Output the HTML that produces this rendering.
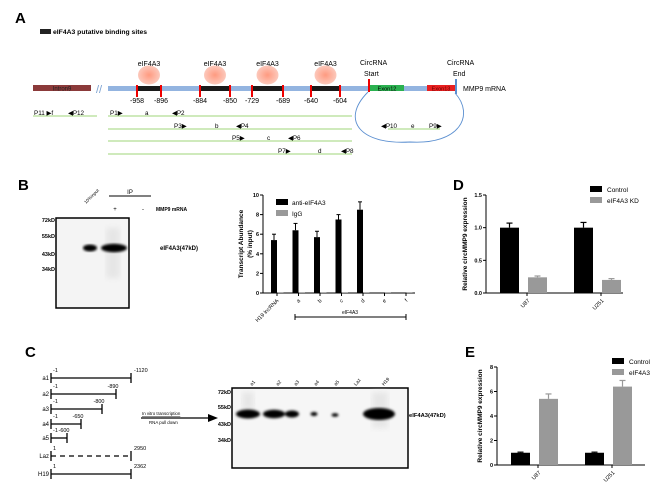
<!DOCTYPE html>
<html><head><meta charset="utf-8"><style>
body{margin:0;background:#fff}
svg{display:block;font-family:"Liberation Sans",Arial,sans-serif}
</style></head><body>
<svg id="fig" width="660" height="492" viewBox="0 0 660 492">
<defs>
<radialGradient id="pk"><stop offset="0" stop-color="#ff9a80"/><stop offset="1" stop-color="#fcc9bc"/></radialGradient>
<filter id="bl"><feGaussianBlur stdDeviation="1.2"/></filter>
<filter id="bl2"><feGaussianBlur stdDeviation="3"/></filter>
</defs>
<!-- Panel A -->
<g>
<text x="15" y="23" font-size="15" font-weight="bold">A</text>
<rect x="40" y="29" width="11" height="5" fill="#222"/>
<text x="53" y="34" font-size="6.8" font-weight="bold">eIF4A3 putative binding sites</text>
<rect x="33" y="85" width="58" height="6" fill="#8b3a3a"/>
<text x="62" y="90.5" font-size="6" fill="#222" text-anchor="middle">Intron9</text>
<text x="96" y="93" font-size="11" fill="#7aa0d0">//</text>
<rect x="108" y="86" width="348" height="5" fill="#93b4e0"/>
<rect x="370" y="85" width="34" height="6" fill="#2bb150"/>
<text x="387" y="90.5" font-size="5.5" text-anchor="middle">Exon12</text>
<rect x="427" y="85" width="28" height="6" fill="#e82020"/>
<text x="441" y="90.5" font-size="5.5" text-anchor="middle" fill="#600">Exon13</text>
<rect x="368" y="79" width="2" height="13" fill="#e00"/>
<rect x="455" y="79" width="2" height="15" fill="#5b8fd0"/>
<text x="463" y="91" font-size="7">MMP9 mRNA</text>
<text x="360" y="65" font-size="7">CircRNA</text><text x="364" y="76" font-size="7">Start</text>
<text x="447" y="65" font-size="7">CircRNA</text><text x="453" y="76" font-size="7">End</text>
<g id="sites"></g>
<g stroke="#9fd67a" stroke-width="1">
<line x1="33" y1="116" x2="97" y2="116"/><line x1="108" y1="116" x2="352" y2="116"/>
<line x1="108" y1="129" x2="352" y2="129"/><line x1="108" y1="141" x2="352" y2="141"/>
<line x1="108" y1="154" x2="352" y2="154"/><line x1="388" y1="129" x2="440" y2="129"/>
</g>
<path d="M368,92 C340,120 360,145 410,142 C460,145 475,115 455,93" fill="none" stroke="#5b8fd0" stroke-width="0.9"/>
<g font-size="6.3">
<text x="34" y="115">P11 ▶f</text><text x="68" y="115">◀P12</text>
<text x="110" y="115">P1▶</text><text x="145" y="115">a</text><text x="172" y="115">◀P2</text>
<text x="174" y="128">P3▶</text><text x="215" y="128">b</text><text x="236" y="128">◀P4</text>
<text x="232" y="140">P5▶</text><text x="267" y="140">c</text><text x="288" y="140">◀P6</text>
<text x="278" y="153">P7▶</text><text x="318" y="153">d</text><text x="341" y="153">◀P8</text>
<text x="381" y="128">◀P10</text><text x="411" y="128">e</text><text x="429" y="128">P9▶</text>
</g>
</g>
<!-- Panel B -->
<g>
<text x="18" y="190" font-size="15" font-weight="bold">B</text>
<rect x="56" y="218" width="73" height="90" fill="#f4f4f4" stroke="#000" stroke-width="1.5"/>
<rect x="106" y="228" width="14" height="50" fill="#e6e6e6" filter="url(#bl2)"/>
<ellipse cx="90" cy="248" rx="7" ry="3.5" fill="#000" filter="url(#bl)"/>
<ellipse cx="114" cy="248" rx="13" ry="4.2" fill="#000" filter="url(#bl)"/>
<g font-size="5.5" font-weight="bold" text-anchor="end"><text x="55" y="222">72kD</text><text x="55" y="238">55kD</text><text x="55" y="256">43kD</text><text x="55" y="271">34kD</text></g>
<text x="86" y="204" font-size="4.5" transform="rotate(-45 86 204)">10%input</text>
<line x1="109" y1="196" x2="151" y2="196" stroke="#000" stroke-width="1"/>
<text x="130" y="194" font-size="6" text-anchor="middle">IP</text>
<text x="115" y="211" font-size="6" text-anchor="middle">+</text><text x="143" y="211" font-size="6" text-anchor="middle">-</text>
<text x="156" y="211" font-size="5" font-weight="bold">MMP9 mRNA</text>
<text x="160" y="250" font-size="6" font-weight="bold">eIF4A3(47kD)</text>
<g id="chartB"></g>
</g>
<!-- Panel C -->
<g>
<text x="25" y="357" font-size="15" font-weight="bold">C</text>
<g id="constructs" stroke="#000" stroke-width="1.3"></g>
<line x1="141" y1="418" x2="210" y2="418" stroke="#000" stroke-width="1.2"/>
<polygon points="208,414 218,418 208,422" fill="#000"/>
<text x="142" y="415" font-size="4.4" text-decoration="underline">In vitro transcription</text>
<text x="149" y="424" font-size="4.4">RNA pull down</text>
<rect x="232" y="388" width="176" height="80" fill="#f6f6f6" stroke="#000" stroke-width="1.5"/>
<rect x="242" y="392" width="12" height="18" fill="#e6e6e6" filter="url(#bl2)"/>
<rect x="372" y="392" width="16" height="36" fill="#e6e6e6" filter="url(#bl2)"/>
<g fill="#000" filter="url(#bl)">
<ellipse cx="248" cy="414" rx="12" ry="4.5"/><ellipse cx="274" cy="414" rx="11" ry="4.2"/>
<ellipse cx="292" cy="414" rx="7" ry="3.5"/><ellipse cx="314" cy="414" rx="3.5" ry="2"/>
<ellipse cx="335" cy="415" rx="3.5" ry="1.8"/><ellipse cx="379" cy="414" rx="16" ry="6"/></g>
<g font-size="5.5" font-weight="bold" text-anchor="end"><text x="231" y="394">72kD</text><text x="231" y="409">55kD</text><text x="231" y="426">43kD</text><text x="231" y="442">34kD</text></g>
<g font-size="4.8" id="laneLabels"></g>
<text x="409" y="417" font-size="5.8" font-weight="bold">eIF4A3(47kD)</text>
</g>
<g><text x="453" y="190" font-size="15" font-weight="bold">D</text><g id="chartD"></g></g>
<g><text x="465" y="357" font-size="15" font-weight="bold">E</text><g id="chartE"></g></g>
</svg>
<script>
const NS="http://www.w3.org/2000/svg";
function mk(parent,tag,attrs,txt){const e=document.createElementNS(NS,tag);for(const k in attrs)e.setAttribute(k,attrs[k]);if(txt!==undefined)e.textContent=txt;parent.appendChild(e);return e;}

// Panel A binding sites
const siteStart=["-958","-884","-729","-640"];
const siteEnd=["-896","-850","-689","-604"];
const siteX=[[137,161],[200,230],[252,283],[311,340]];
const sg=document.getElementById('sites');
siteX.forEach((s,i)=>{
  const c=(s[0]+s[1])/2;
  const el=mk(sg,'ellipse',{cx:c,cy:75,rx:11,ry:9.5,fill:'url(#pk)'});
  
  
  mk(sg,'text',{x:c,y:66,'font-size':7,'text-anchor':'middle'},'eIF4A3');
  const r=mk(sg,'rect',{x:s[0],y:86,width:s[1]-s[0],height:5,fill:'#1a1a1a'});
  
  
  mk(sg,'rect',{x:s[0]-1,y:85,width:2,height:12,fill:'#e00'});
  mk(sg,'rect',{x:s[1]-1,y:85,width:2,height:12,fill:'#e00'});
  mk(sg,'text',{x:s[0],y:103,'font-size':7,'text-anchor':'middle'},siteStart[i]);
  mk(sg,'text',{x:s[1],y:103,'font-size':7,'text-anchor':'middle'},siteEnd[i]);
});

// Chart B data
const bCats=["H19 lncRNA","a","b","c","d","e","f"];
const bAnti=[5.4,6.4,5.7,7.5,8.5,0.05,0.05];
const bAntiErr=[0.6,0.7,0.6,0.5,0.8,0,0];
const bIgG=[0.08,0.08,0.08,0.08,0.08,0.08,0.08];
const bTicks=[0,2,4,6,8,10];
(function(){
  const g=document.getElementById('chartB');
  const x0=263,x1=415,y0=293,y1=195,max=10;
  const Y=v=>y0-(v/max)*(y0-y1);
  const X=i=>274+i*21.5;
  mk(g,'line',{x1:x0,y1:y1,x2:x0,y2:y0,stroke:'#000','stroke-width':1});
  mk(g,'line',{x1:x0,y1:y0,x2:x1,y2:y0,stroke:'#000','stroke-width':1});
  bTicks.forEach(t=>{mk(g,'line',{x1:x0-3,y1:Y(t),x2:x0,y2:Y(t),stroke:'#000'});mk(g,'text',{x:x0-4,y:Y(t)+2,'font-size':5.5,'text-anchor':'end','font-weight':'bold'},t);});
  bCats.forEach((c,i)=>{
    const cx=X(i);
    mk(g,'line',{x1:cx+3,y1:y0,x2:cx+3,y2:y0+3,stroke:'#000'});
    if(bAntiErr[i]>0){mk(g,'line',{x1:cx,y1:Y(bAnti[i]),x2:cx,y2:Y(bAnti[i]+bAntiErr[i]),stroke:'#000'});mk(g,'line',{x1:cx-2,y1:Y(bAnti[i]+bAntiErr[i]),x2:cx+2,y2:Y(bAnti[i]+bAntiErr[i]),stroke:'#000'});}
    const b=mk(g,'rect',{x:cx-3,y:Y(bAnti[i]),width:6,height:y0-Y(bAnti[i]),fill:'#000'});
    
    
    const b2=mk(g,'rect',{x:cx+3.5,y:Y(bIgG[i]),width:6,height:y0-Y(bIgG[i]),fill:'#999'});
    
    
    mk(g,'text',{x:cx+5,y:y0+8,'font-size':5.5,'text-anchor':'end',transform:`rotate(-45 ${cx+5} ${y0+8})`},c);
  });
  mk(g,'line',{x1:295,y1:317,x2:406,y2:317,stroke:'#000'});
  mk(g,'line',{x1:295,y1:314,x2:295,y2:320,stroke:'#000'});
  mk(g,'line',{x1:406,y1:314,x2:406,y2:320,stroke:'#000'});
  mk(g,'text',{x:350,y:314,'font-size':5,'text-anchor':'middle'},'eIF4A3');
  mk(g,'rect',{x:276,y:199,width:12,height:6,fill:'#000'});
  mk(g,'text',{x:292,y:205,'font-size':6.5},'anti-eIF4A3');
  mk(g,'rect',{x:276,y:210,width:12,height:6,fill:'#999'});
  mk(g,'text',{x:292,y:216,'font-size':6.5},'IgG');
  mk(g,'text',{x:243,y:244,'font-size':6.5,'font-weight':'bold','text-anchor':'middle',transform:'rotate(-90 243 244)'},'Transcript Abundance');
  mk(g,'text',{x:252,y:244,'font-size':6.5,'font-weight':'bold','text-anchor':'middle',transform:'rotate(-90 252 244)'},'(% input)');
})();

// Generic grouped chart for D and E
function groupChart(id,cfg){
  const g=document.getElementById(id);
  const Y=v=>cfg.y0-(v/cfg.max)*(cfg.y0-cfg.y1);
  mk(g,'line',{x1:cfg.x0,y1:cfg.y1,x2:cfg.x0,y2:cfg.y0,stroke:'#000','stroke-width':1});
  mk(g,'line',{x1:cfg.x0,y1:cfg.y0,x2:cfg.xEnd,y2:cfg.y0,stroke:'#000','stroke-width':1});
  cfg.ticks.forEach((t,i)=>{mk(g,'line',{x1:cfg.x0-3,y1:Y(t),x2:cfg.x0,y2:Y(t),stroke:'#000'});mk(g,'text',{x:cfg.x0-4,y:Y(t)+2,'font-size':5.5,'font-weight':'bold','text-anchor':'end'},cfg.tickLabels[i]);});
  cfg.cats.forEach((c,i)=>{
    const gx=cfg.gx[i];
    [[cfg.ctrl,cfg.ctrlErr,'#000',0],[cfg.trt,cfg.trtErr,'#999',1]].forEach(([vals,errs,col,k])=>{
      const bx=gx+k*cfg.step, v=vals[i], e=errs[i];
      mk(g,'line',{x1:bx+cfg.w/2,y1:Y(v),x2:bx+cfg.w/2,y2:Y(v+e),stroke:col,'stroke-width':1.2});
      mk(g,'line',{x1:bx+cfg.w/2-3,y1:Y(v+e),x2:bx+cfg.w/2+3,y2:Y(v+e),stroke:col,'stroke-width':1.2});
      const b=mk(g,'rect',{x:bx,y:Y(v),width:cfg.w,height:cfg.y0-Y(v),fill:col});
      
      
    });
    const lx=gx+cfg.step-1;
    mk(g,'line',{x1:lx,y1:cfg.y0,x2:lx,y2:cfg.y0+3,stroke:'#000'});
    mk(g,'text',{x:lx+3,y:cfg.y0+8,'font-size':5.5,'text-anchor':'end',transform:`rotate(-45 ${lx+3} ${cfg.y0+8})`},c);
  });
  mk(g,'rect',{x:cfg.lx,y:cfg.ly,width:12,height:6,fill:'#000'});
  mk(g,'text',{x:cfg.lx+17,y:cfg.ly+6,'font-size':6.5},cfg.legend[0]);
  mk(g,'rect',{x:cfg.lx,y:cfg.ly+11,width:12,height:6,fill:'#999'});
  mk(g,'text',{x:cfg.lx+17,y:cfg.ly+17,'font-size':6.5},cfg.legend[1]);
  const my=(cfg.y0+cfg.y1)/2;
  mk(g,'text',{x:cfg.ylx,y:my,'font-size':6.5,'font-weight':'bold','text-anchor':'middle',transform:`rotate(-90 ${cfg.ylx} ${my})`},'Relative circMMP9 expression');
}
const dCats=["U87","U251"];
const dCtrl=[1.0,1.0];
const dCtrlErr=[0.07,0.08];
const dKD=[0.24,0.2];
const dKDErr=[0.02,0.02];
const dTicks=[0,0.5,1.0,1.5];
const dTickLabels=["0.0","0.5","1.0","1.5"];
groupChart('chartD',{x0:486,xEnd:623,y0:293,y1:195,max:1.5,ticks:dTicks,tickLabels:dTickLabels,cats:dCats,ctrl:dCtrl,ctrlErr:dCtrlErr,trt:dKD,trtErr:dKDErr,gx:[500,574],step:28,w:19,lx:590,ly:186,legend:["Control","eIF4A3 KD"],ylx:467});
const eCats=["U87","U251"];
const eCtrl=[1.0,1.0];
const eCtrlErr=[0.05,0.05];
const eOE=[5.4,6.4];
const eOEErr=[0.4,0.5];
const eTicks=[0,2,4,6,8];
const eTickLabels=["0","2","4","6","8"];
groupChart('chartE',{x0:497,xEnd:645,y0:465,y1:367,max:8,ticks:eTicks,tickLabels:eTickLabels,cats:eCats,ctrl:eCtrl,ctrlErr:eCtrlErr,trt:eOE,trtErr:eOEErr,gx:[511,585],step:28,w:19,lx:612,ly:358,legend:["Control","eIF4A3"],ylx:482});

// Panel C constructs
const cNames=["a1","a2","a3","a4","a5","Laz","H19"];
const cStartLbl=["-1","-1","-1","-1","-1","1","1"];
const cEndLbl=["-1120","-890","-800","-650","-600","2950","2362"];
const cEndX=[131,116,102,81,67,131,131];
const cY=[378,394,409,424,438,456,474];
const cg=document.getElementById('constructs');
cNames.forEach((n,i)=>{
  const y=cY[i];
  mk(cg,'line',{x1:51,y1:y-5,x2:51,y2:y+5});
  mk(cg,'line',{x1:cEndX[i],y1:y-5,x2:cEndX[i],y2:y+5});
  const l=mk(cg,'line',{x1:51,y1:y,x2:cEndX[i],y2:y});
  if(n==='Laz')l.setAttribute('stroke-dasharray','5,4');
  
  
  mk(cg,'text',{x:49,y:y+2,'font-size':6,'text-anchor':'end',stroke:'none'},n);
  mk(cg,'text',{x:53,y:y-6,'font-size':5.5,stroke:'none'},cStartLbl[i]);
  mk(cg,'text',{x:cEndX[i]-(i<5&&i>0?3:-3),y:y-6,'font-size':5.5,stroke:'none','text-anchor':(i<5&&i>0)?'middle':'start'},cEndLbl[i]);
});
const laneNames=["a1","a2","a3","a4","a5","Laz","H19"];
const laneX=[252,278,296,316,336,356,384];
const lg=document.getElementById('laneLabels');
laneNames.forEach((n,i)=>{mk(lg,'text',{x:laneX[i],y:386,transform:`rotate(-50 ${laneX[i]} 386)`},n);});
</script>
</body></html>
